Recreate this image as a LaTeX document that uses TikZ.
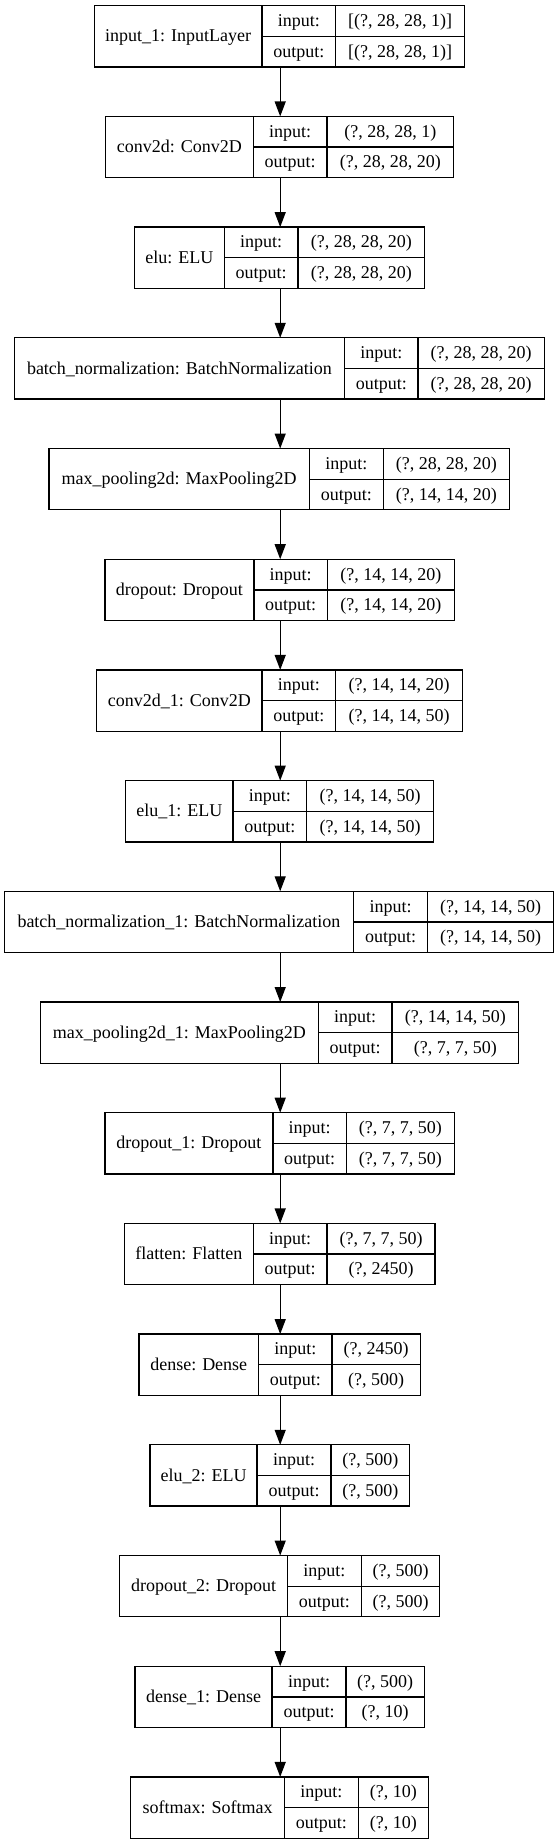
\documentclass[tikz,border=0pt]{standalone}
\usepackage{fontspec}
\setmainfont{Liberation Serif}
\usetikzlibrary{arrows.meta}
\tikzset{
  layerbox/.style={draw=black, line width=1.3pt, inner sep=0pt, outer sep=0pt, anchor=north west},
  txt/.style={anchor=base, inner sep=0pt, font=\fontsize{18}{20}\selectfont},
  arr/.style={line width=1.3pt, -{Triangle[length=15pt,width=11pt]}},
  rulel/.style={line width=1.3pt}
}
% #1 name, #2 index, #3 left, #4 divider1, #5 divider2, #6 right, #7 label, #8 input shape, #9 output shape
\newcommand\mylayer[9]{%
  \pgfmathsetmacro\ltop{5.7+110.7*(#2-1)}%
  \pgfmathsetmacro\lbot{\ltop+61.3}%
  \pgfmathsetmacro\lmid{\ltop+30.65}%
  \pgfmathsetmacro\lw{#6-#3}%
  \pgfmathsetmacro\cl{(#3+#4)/2}%
  \pgfmathsetmacro\cm{(#4+#5)/2}%
  \pgfmathsetmacro\cr{(#5+#6)/2}%
  \pgfmathsetmacro\bl{\ltop+36.2}%
  \pgfmathsetmacro\bi{\ltop+20.8}%
  \pgfmathsetmacro\bo{\ltop+51.5}%
  \node[layerbox, minimum width=\lw pt, minimum height=61.3pt] (#1) at (#3,\ltop) {};
  \draw[rulel] (#4,\ltop) -- (#4,\lbot);
  \draw[rulel] (#5,\ltop) -- (#5,\lbot);
  \draw[rulel] (#4,\lmid) -- (#6,\lmid);
  \node[txt] (#1-l) at (\cl,\bl) {#7};
  \node[txt] (#1-i) at (\cm,\bi) {input:};
  \node[txt] (#1-o) at (\cm,\bo) {output:};
  \node[txt] (#1-ii) at (\cr,\bi) {#8};
  \node[txt] (#1-oo) at (\cr,\bo) {#9};
}
\begin{document}
\begin{tikzpicture}[x=1pt,y=-1pt]
\useasboundingbox (0,0) rectangle (557,1844);
\fill[white] (0,0) rectangle (557,1844);
\coordinate (ax) at (280.2,0);
\mylayer{b1}{1}{94.3}{262.1}{335.7}{464.5}{input\_1: InputLayer}{[(?, 28, 28, 1)]}{[(?, 28, 28, 1)]}
\mylayer{b2}{2}{105.7}{253.2}{327.1}{453.5}{conv2d: Conv2D}{(?, 28, 28, 1)}{(?, 28, 28, 20)}
\mylayer{b3}{3}{134.3}{224.3}{297.9}{424.8}{elu: ELU}{(?, 28, 28, 20)}{(?, 28, 28, 20)}
\mylayer{b4}{4}{14.3}{344.6}{417.9}{544.5}{batch\_normalization: BatchNormalization}{(?, 28, 28, 20)}{(?, 28, 28, 20)}
\mylayer{b5}{5}{48.9}{309.3}{383.2}{509.7}{max\_pooling2d: MaxPooling2D}{(?, 28, 28, 20)}{(?, 14, 14, 20)}
\mylayer{b6}{6}{105}{253.9}{327.5}{454.2}{dropout: Dropout}{(?, 14, 14, 20)}{(?, 14, 14, 20)}
\mylayer{b7}{7}{96.8}{262.1}{335.7}{462.3}{conv2d\_1: Conv2D}{(?, 14, 14, 20)}{(?, 14, 14, 50)}
\mylayer{b8}{8}{125.7}{232.9}{306.8}{433.5}{elu\_1: ELU}{(?, 14, 14, 50)}{(?, 14, 14, 50)}
\mylayer{b9}{9}{4.3}{353.6}{427.5}{553.8}{batch\_normalization\_1: BatchNormalization}{(?, 14, 14, 50)}{(?, 14, 14, 50)}
\mylayer{b10}{10}{40.7}{318.2}{392.1}{518.4}{max\_pooling2d\_1: MaxPooling2D}{(?, 14, 14, 50)}{(?, 7, 7, 50)}
\mylayer{b11}{11}{105}{272.9}{346.4}{454.2}{dropout\_1: Dropout}{(?, 7, 7, 50)}{(?, 7, 7, 50)}
\mylayer{b12}{12}{124.3}{253.2}{327.1}{435}{flatten: Flatten}{(?, 7, 7, 50)}{(?, 2450)}
\mylayer{b13}{13}{138.9}{258.6}{332.1}{420.2}{dense: Dense}{(?, 2450)}{(?, 500)}
\mylayer{b14}{14}{150}{257.1}{331.1}{409.6}{elu\_2: ELU}{(?, 500)}{(?, 500)}
\mylayer{b15}{15}{119.6}{287.5}{361.4}{439.7}{dropout\_2: Dropout}{(?, 500)}{(?, 500)}
\mylayer{b16}{16}{135}{272.1}{346.1}{424.3}{dense\_1: Dense}{(?, 500)}{(?, 10)}
\mylayer{b17}{17}{130.7}{284.6}{358.2}{428.5}{softmax: Softmax}{(?, 10)}{(?, 10)}
\foreach \i [evaluate=\i as \j using int(\i+1)] in {1,...,16}{
  \draw[arr] (b\i.south -| ax) -- (b\j.north -| ax);
}
\end{tikzpicture}
\end{document}
